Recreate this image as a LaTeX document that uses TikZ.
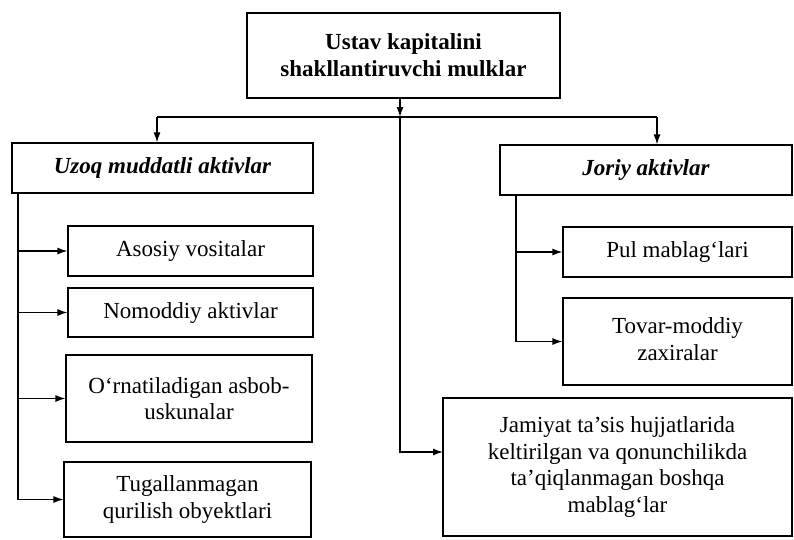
\documentclass[tikz,border=0pt]{standalone}
\usepackage{fontspec}
\setmainfont{Liberation Serif}
\usetikzlibrary{arrows.meta}
\begin{document}
\begin{tikzpicture}[x=1pt,y=-1pt,
  box/.style={draw, line width=1.2pt, align=center, inner sep=0pt,
    font=\fontsize{23}{26.5}\selectfont},
  conn/.style={line width=1.2pt},
  arr/.style={conn, -{Latex[length=10pt,width=7pt]}}]
\useasboundingbox (0,0) rectangle (794,539);
% boxes
\node[box, minimum width=313, minimum height=85,
  font=\bfseries\fontsize{23}{27}\selectfont] (top) at (403.5,55.5)
  {Ustav kapitalini\\shakllantiruvchi mulklar};
\node[box, minimum width=301, minimum height=50,
  font=\bfseries\itshape\fontsize{23}{26.5}\selectfont] (uzoq) at (162.5,168)
  {Uzoq muddatli aktivlar};
\node[box, minimum width=292, minimum height=50,
  font=\bfseries\itshape\fontsize{23}{26.5}\selectfont] (joriy) at (646,170)
  {Joriy aktivlar};
\node[box, minimum width=245, minimum height=50] (asosiy) at (190.5,251)
  {Asosiy vositalar};
\node[box, minimum width=245, minimum height=49] (nomoddiy) at (190.5,312.5)
  {Nomoddiy aktivlar};
\node[box, minimum width=246, minimum height=87] (ornat) at (189,398.5)
  {O‘rnatiladigan asbob-\\uskunalar};
\node[box, minimum width=247, minimum height=75] (tugal) at (187.5,499.5)
  {Tugallanmagan\\qurilish obyektlari};
\node[box, minimum width=229, minimum height=50] (pul) at (677.5,252)
  {Pul mablag‘lari};
\node[box, minimum width=229, minimum height=87] (tovar) at (677.5,341.5)
  {\raisebox{7pt}{\begin{tabular}{@{}c@{}}Tovar-moddiy\\zaxiralar\end{tabular}}};
\node[box, minimum width=349, minimum height=138] (jamiyat) at (617.5,467)
  {Jamiyat ta’sis hujjatlarida\\keltirilgan va qonunchilikda\\ta’qiqlanmagan boshqa\\mablag‘lar};
% bus coordinates
\coordinate (busL) at (157,117);
\coordinate (busR) at (657,117);
\coordinate (busC) at (400,117);
\coordinate (jA) at (443,452);
\coordinate (ls) at (18,193);
\coordinate (rs) at (516,195);
% connectors
\draw[conn] (busL) -- (busR);
\draw[arr] (top.south -| busC) -- (busC);
\draw[arr] (busL) -- (uzoq.north -| busL);
\draw[arr] (busR) -- (joriy.north -| busR);
\draw[arr] (busC) |- (jA);
\draw[conn] (ls) -- (ls |- tugal.west);
\draw[arr] (ls |- asosiy.west) -- (asosiy.west);
\draw[arr] (ls |- nomoddiy.west) -- (nomoddiy.west);
\draw[arr] (ls |- ornat.west) -- (ornat.west);
\draw[arr] (ls |- tugal.west) -- (tugal.west);
\draw[conn] (rs) -- (rs |- tovar.west);
\draw[arr] (rs |- pul.west) -- (pul.west);
\draw[arr] (rs |- tovar.west) -- (tovar.west);
\end{tikzpicture}
\end{document}
